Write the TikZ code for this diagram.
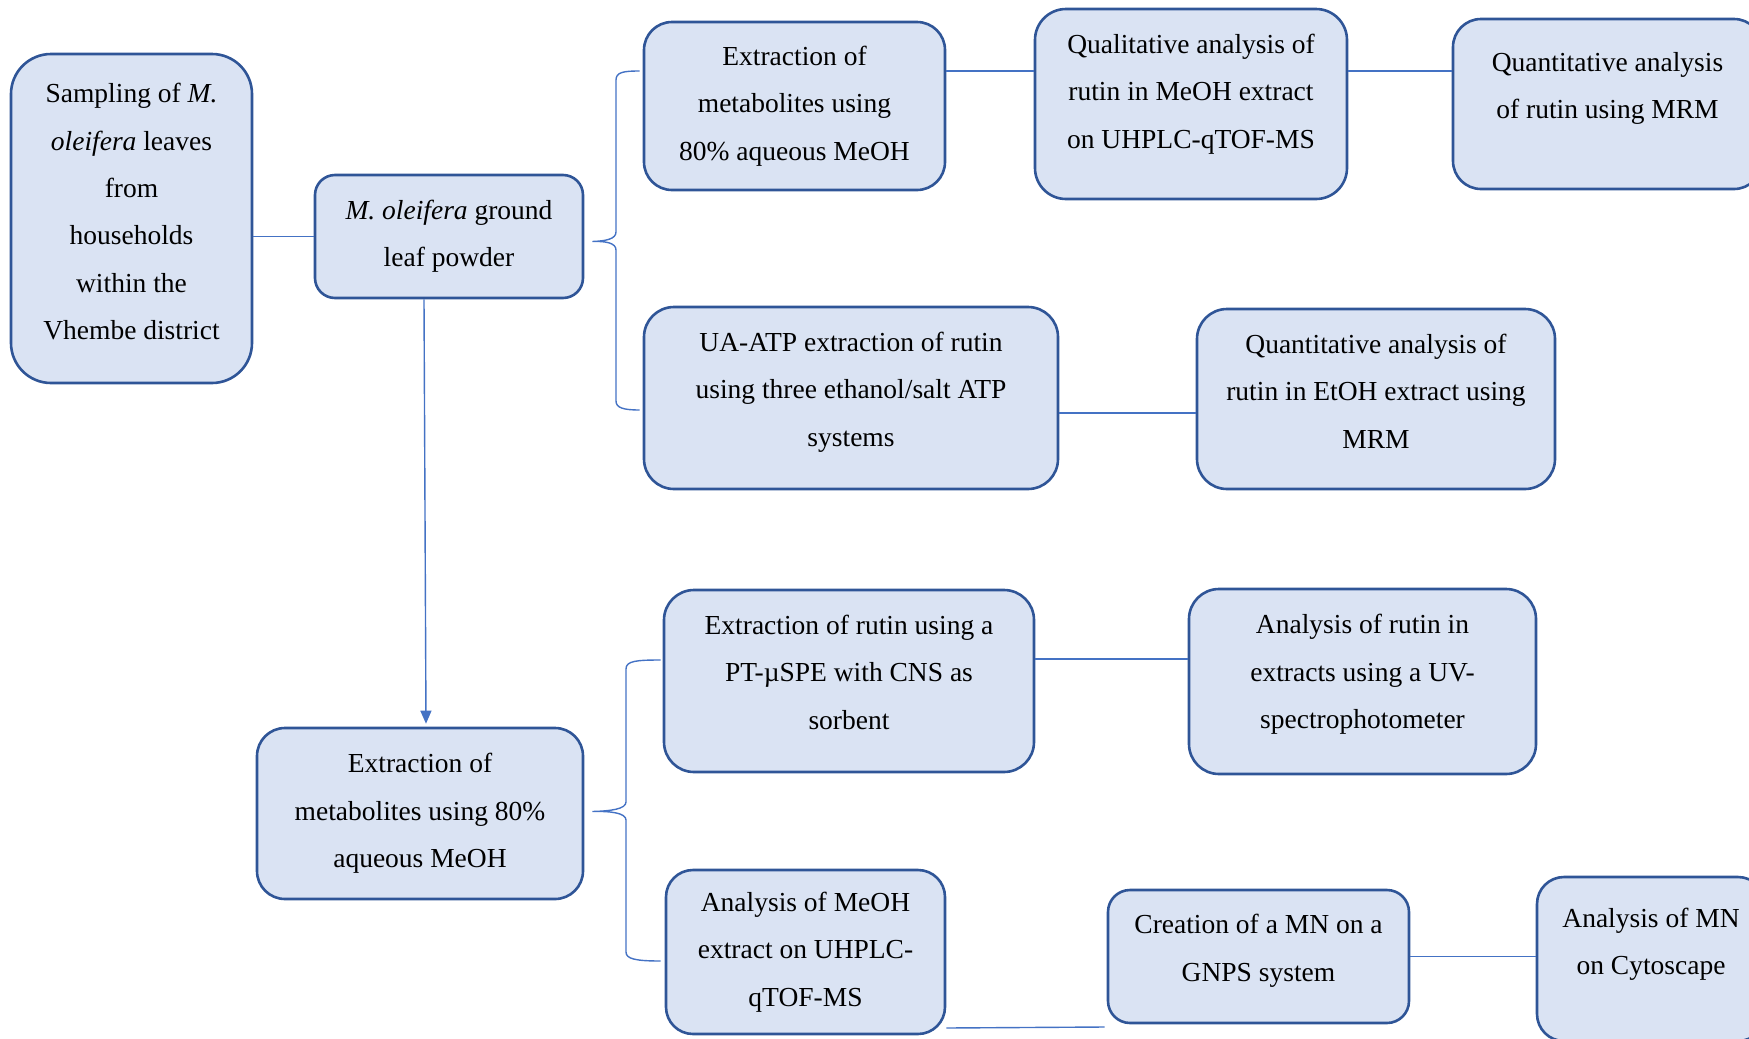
\documentclass[tikz,border=0pt]{standalone}
\usepackage{fontspec}
\setmainfont{Liberation Serif}
\usetikzlibrary{arrows.meta,calc}
\definecolor{boxfill}{HTML}{DAE3F3}
\definecolor{boxline}{HTML}{2F5597}
\definecolor{linkline}{HTML}{4472C4}
\newcommand{\boxfont}{\fontsize{27.5}{47.4}\selectfont}

\begin{document}
\begin{tikzpicture}[x=1pt,y=-1pt,
  box/.style={draw=boxline,fill=boxfill,line width=2.6pt,rounded corners=28pt,align=center,font=\boxfont,inner sep=0pt},
  link/.style={draw=linkline,line width=1.4pt},
  arrow/.style={link,-{Triangle[length=13pt,width=11pt]}}]
  \useasboundingbox (0,0) rectangle (1749,1039);
  \clip (0,0) rectangle (1749,1039);
  \node[box,minimum width=241pt,minimum height=329pt,rounded corners=40pt,text depth=14pt](samp) at (131.5,218.5){Sampling of \textit{M.}\\\textit{oleifera} leaves\\from\\households\\within the\\Vhembe district};
  \node[box,minimum width=268pt,minimum height=123pt,rounded corners=20pt](ground) at (449,236.5){\textit{M. oleifera} ground\\leaf powder};
  \node[box,minimum width=301pt,minimum height=168pt](ext1) at (794.5,106){Extraction of\\metabolites using\\80\% aqueous MeOH};
  \node[box,minimum width=312pt,minimum height=190pt,rounded corners=31pt,text depth=26pt](qual) at (1191,104){Qualitative analysis of\\rutin in MeOH extract\\on UHPLC-qTOF-MS};
  \node[box,minimum width=309pt,minimum height=170pt,text depth=37pt](mrm) at (1607.5,104){Quantitative analysis\\of rutin using MRM};
  \node[box,minimum width=414pt,minimum height=182pt,rounded corners=30pt,text depth=18pt](ua) at (851,398){UA-ATP extraction of rutin\\using three ethanol/salt ATP\\systems};
  \node[box,minimum width=358pt,minimum height=180pt,rounded corners=30pt,text depth=16pt](etoh) at (1376,399){Quantitative analysis of\\rutin in EtOH extract using\\MRM};
  \node[box,minimum width=326pt,minimum height=171pt](ext2) at (420,813.5){Extraction of\\metabolites using 80\%\\aqueous MeOH};
  \node[box,minimum width=370pt,minimum height=182pt,rounded corners=30pt,text depth=18pt](pt) at (849,681){Extraction of rutin using a\\PT-µSPE with CNS as\\sorbent};
  \node[box,minimum width=347pt,minimum height=185pt,rounded corners=30pt,text depth=20pt](uv) at (1362.5,681.5){Analysis of rutin in\\extracts using a UV-\\spectrophotometer};
  \node[box,minimum width=279pt,minimum height=164pt,rounded corners=27pt](meoh) at (805.5,952){Analysis of MeOH\\extract on UHPLC-\\qTOF-MS};
  \node[box,minimum width=301pt,minimum height=133pt,rounded corners=22pt,text depth=17pt](mn) at (1258.5,956.5){Creation of a MN on a\\GNPS system};
  \node[box,minimum width=228pt,minimum height=164pt,rounded corners=27pt,text depth=35pt](cyto) at (1651,959){Analysis of MN\\on Cytoscape};

  \draw[link](samp.east |- ground.west)--(ground.west);
  \draw[arrow]($(ground.south -| ext2.north)+(4,0)$)--($(ext2.north)+(6,-3)$);
  \draw[link](ext1.east |- 0,71)--(qual.west |- 0,71);
  \draw[link](qual.east |- 0,71)--(mrm.west |- 0,71);
  \draw[link](ua.east |- 0,413)--(etoh.west |- 0,413);
  \draw[link](pt.east |- 0,659)--(uv.west |- 0,659);
  \draw[link](meoh.east |- 0,1028)--($(mn.west |- 0,1027)+(-2,0)$);
  \draw[link](mn.east)--(cyto.west |- mn.east);

  \coordinate (tip1) at ($(ground.east)+(8,5)$);
  \coordinate (tip2) at ($(ext2.east)+(8,-2)$);
  \draw[link]($(ext1.west |- 0,71)+(-3,0)$) .. controls (624,71) and (616,72) .. (616,80)
    -- (616,232) .. controls (616,239) and (606,241) .. (tip1)
    .. controls (606,241) and (616,243) .. (616,250)
    -- (616,401) .. controls (616,408) and (624,410) .. ($(ua.west |- 0,410)+(-3,0)$);
  \draw[link]($(pt.west |- 0,660)+(-2,0)$) .. controls (636,660) and (626,661) .. (626,669)
    -- (626,802) .. controls (626,809) and (611,811) .. (tip2)
    .. controls (611,811) and (626,813) .. (626,820)
    -- (626,952) .. controls (626,959) and (636,961) .. ($(meoh.west |- 0,961)+(-4,0)$);
\end{tikzpicture}
\end{document}
